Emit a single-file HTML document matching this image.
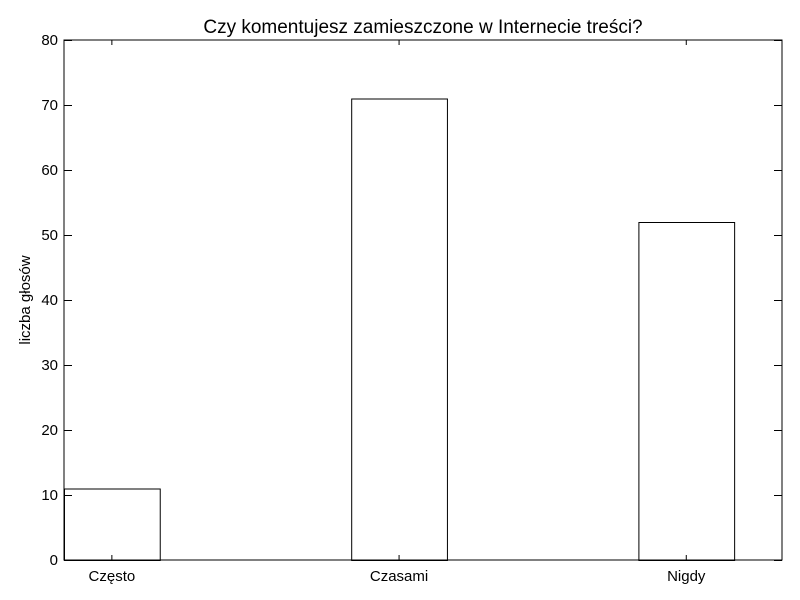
<!DOCTYPE html>
<html>
<head>
<meta charset="utf-8">
<style>
html,body{margin:0;padding:0;background:#fff;}
svg{display:block;font-family:"Liberation Sans",sans-serif;}
</style>
</head>
<body>
<svg id="chart" width="800" height="600">
<rect width="800" height="600" fill="#fff"/>
<text x="423" y="33" font-size="19" text-anchor="middle">Czy komentujesz zamieszczone w Internecie treści?</text>
<text transform="translate(30,300) rotate(-90)" font-size="15" text-anchor="middle">liczba głosów</text>
<g id="marks"></g>
<rect x="64" y="40" width="718" height="520" fill="none" stroke="#000" stroke-width="1"/>
</svg>
<script>
const categories = ["Często", "Czasami", "Nigdy"];
const values = [11, 71, 52];
const yTicks = [0, 10, 20, 30, 40, 50, 60, 70, 80];

const L = 64, R = 782, T = 40, B = 560;
const yMax = 80, xMax = 2.5, barW = 1/3;
const y = v => B - (v / yMax) * (B - T);
const x = v => L + (v / xMax) * (R - L);
const NS = "http://www.w3.org/2000/svg";
const g = document.getElementById("marks");
function mk(tag, attrs) {
  const e = document.createElementNS(NS, tag);
  for (const k in attrs) e.setAttribute(k, attrs[k]);
  g.appendChild(e);
  return e;
}
categories.forEach((c, i) => {
  const r = mk("rect", {x: x(i) + 0.5, y: y(values[i]) + 0.5, width: x(i + barW) - x(i), height: y(0) - y(values[i]), fill: "#fff", stroke: "#000", "stroke-width": 1});
  
  
  const t = mk("text", {x: x(i + barW / 2), y: 581, "font-size": 15, "text-anchor": "middle"});
  t.textContent = c;
  
  
  const tk = mk("line", {x1: x(i + barW / 2), x2: x(i + barW / 2), y1: B, y2: B - 5, stroke: "#000"});
  
  
  const tk2 = mk("line", {x1: x(i + barW / 2), x2: x(i + barW / 2), y1: T, y2: T + 5, stroke: "#000"});
  
  
});
yTicks.forEach(v => {
  const yy = Math.round(y(v)) + 0.5;
  const a = mk("line", {x1: L, x2: L + 8, y1: yy, y2: yy, stroke: "#000"});
  
  
  const b = mk("line", {x1: R - 8, x2: R, y1: yy, y2: yy, stroke: "#000"});
  
  
  const t = mk("text", {x: L - 6, y: y(v) + 5, "font-size": 15, "text-anchor": "end"});
  t.textContent = v;
  
  
});
</script>
</body>
</html>
